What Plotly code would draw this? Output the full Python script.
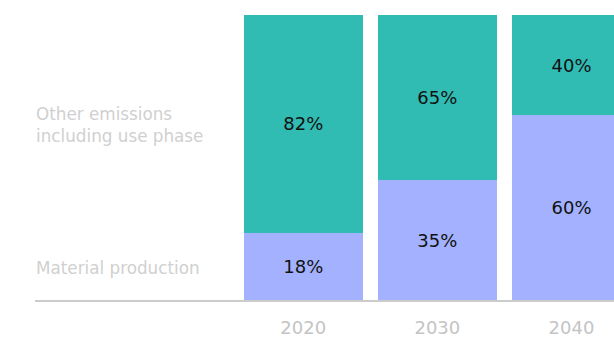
import plotly.graph_objects as go

years = ["2020", "2030", "2040"]
material_height = [23.6, 42.1, 64.9]
other_height = [76.4, 57.9, 35.1]
material_labels = ["18%", "35%", "60%"]
other_labels = ["82%", "65%", "40%"]

TEAL = "#30bbb3"
LAVENDER = "#a3b1fe"
FONT = "DejaVu Sans"

fig = go.Figure()
fig.add_trace(go.Bar(
    x=[0, 1, 2], y=material_height, text=material_labels,
    marker=dict(color=LAVENDER, line=dict(width=0)),
    textposition="inside", insidetextanchor="middle", textangle=0,
    textfont=dict(color="#111111", size=18, family=FONT),
    name="Material production", width=0.885,
))
fig.add_trace(go.Bar(
    x=[0, 1, 2], y=other_height, text=other_labels,
    marker=dict(color=TEAL, line=dict(width=0)),
    textposition="inside", insidetextanchor="middle", textangle=0,
    textfont=dict(color="#111111", size=18, family=FONT),
    name="Other emissions including use phase", width=0.885,
))

fig.update_layout(
    barmode="stack",
    width=614, height=341,
    margin=dict(l=35, r=0, t=15, b=41),
    paper_bgcolor="white", plot_bgcolor="white",
    showlegend=False,
    font=dict(family=FONT),
    uniformtext=dict(minsize=8, mode="show"),
    xaxis=dict(
        range=[-2.0, 2.317],
        tickmode="array", tickvals=[0, 1, 2], ticktext=years,
        showgrid=False, zeroline=False,
        showline=True, linecolor="#cccccc", linewidth=2,
        ticks="", ticklabelstandoff=10, automargin=False,
        tickfont=dict(size=18, color="#c4c4c4", family=FONT),
        fixedrange=True,
    ),
    yaxis=dict(range=[0, 100], visible=False, fixedrange=True, automargin=False),
    annotations=[
        dict(text="Other emissions<br>including use phase", xref="paper", yref="paper",
             x=0, y=0.614, xanchor="left", yanchor="middle", align="left",
             showarrow=False, xshift=-1,
             font=dict(size=16.8, color="#d0d0d0", family=FONT)),
        dict(text="Material production", xref="paper", yref="paper",
             x=0, y=0.112, xanchor="left", yanchor="middle", align="left",
             showarrow=False, xshift=-1,
             font=dict(size=16.8, color="#d0d0d0", family=FONT)),
    ],
)

fig.write_html("out.html")
